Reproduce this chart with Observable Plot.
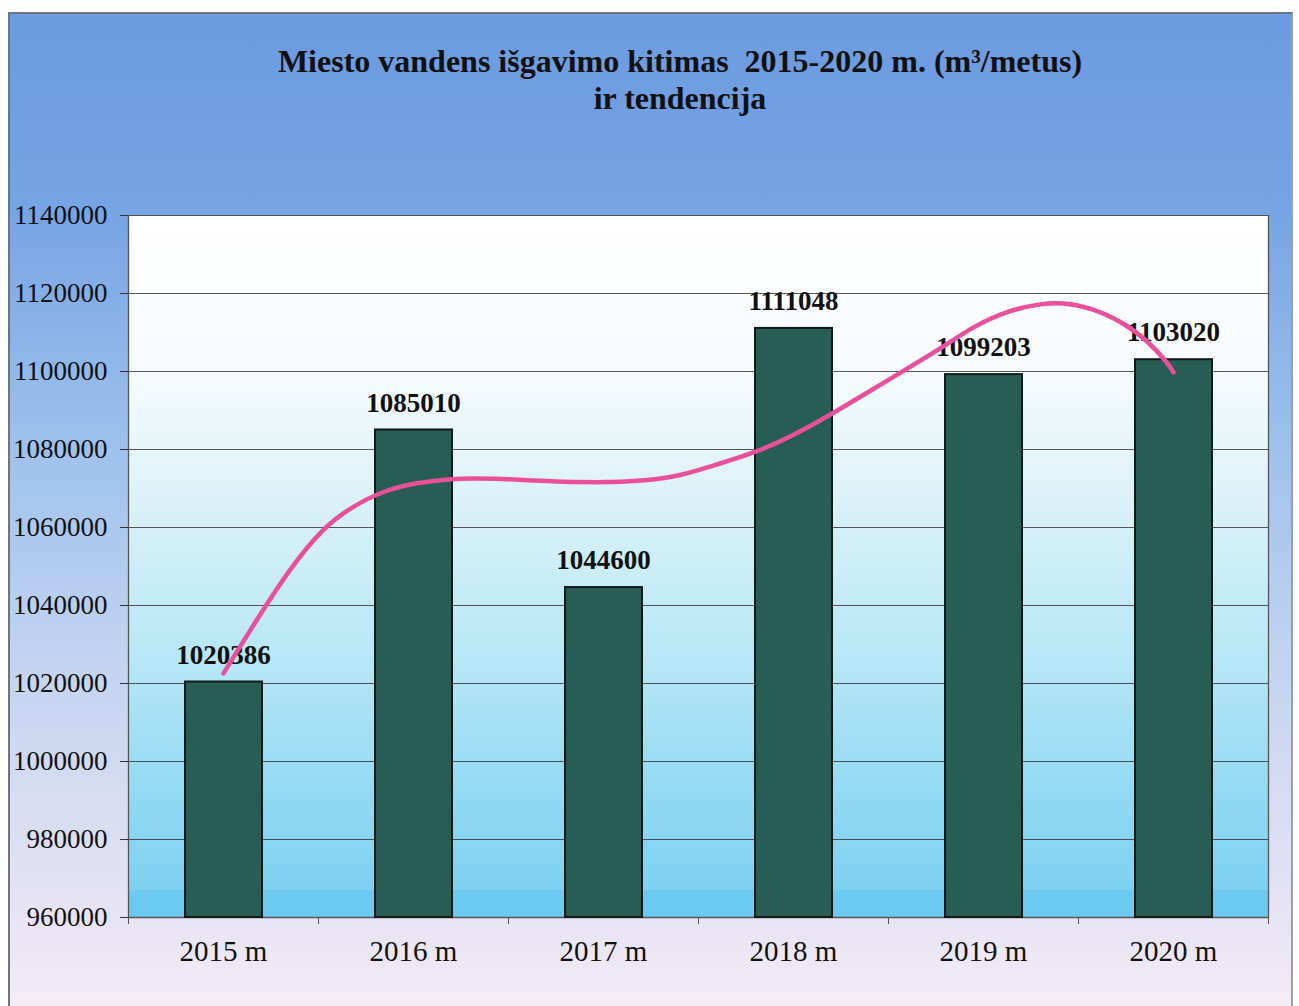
<!DOCTYPE html>
<html>
<head>
<meta charset="utf-8">
<script src="https://cdn.jsdelivr.net/npm/d3@7"></script>
<script src="https://cdn.jsdelivr.net/npm/@observablehq/plot@0.6"></script>
<style>
  html, body { margin: 0; padding: 0; background: #ffffff; }
  body { width: 1299px; height: 1006px; position: relative; overflow: hidden; font-family: "Liberation Serif", serif; }
  #frame {
    position: absolute; left: 8px; top: 12px; width: 1281px; height: 1000px;
    border-left: 2px solid #6e7480; border-top: 2px solid #6e7480; border-right: 2px solid #9aa0b0;
    background: linear-gradient(to bottom, #6b9ae0 0px, #77a4e4 200px, #9cc0ec 420px, #c3d4f0 650px, #e4e2f4 880px, #f5ecf7 1000px);
  }
  #title {
    position: absolute; left: 0; width: 1360px; top: 43px; text-align: center;
    font-family: "Liberation Serif", serif; font-weight: bold; font-size: 32px; line-height: 37px;
    color: #111; white-space: pre;
  }
  #chart { position: absolute; left: 0; top: 0; }
</style>
</head>
<body>
<div id="frame"></div>
<div id="title">Miesto vandens išgavimo kitimas  2015-2020 m. (m³/metus)
ir tendencija</div>
<div id="chart"></div>
<script>
// ---- data ----
const years = [2015, 2016, 2017, 2018, 2019, 2020];
const yearLabels = ["2015 m", "2016 m", "2017 m", "2018 m", "2019 m", "2020 m"];
const volumes = [1020386, 1085010, 1044600, 1111048, 1099203, 1103020];
const yTicks = [960000, 980000, 1000000, 1020000, 1040000, 1060000, 1080000, 1100000, 1120000, 1140000];
const categoryEdges = [2014.5, 2015.5, 2016.5, 2017.5, 2018.5, 2019.5, 2020.5];
// trend line
const trendX = [2015.0, 2015.195, 2015.353, 2015.526, 2015.668, 2015.842, 2016.02, 2016.195, 2016.37, 2016.9, 2017.25, 2017.405, 2017.579, 2017.8, 2018.0, 2018.205, 2018.389, 2018.6, 2018.774, 2018.947, 2019.126, 2019.3, 2019.42, 2019.563, 2019.737, 2019.863, 2019.968, 2020.0];
const trendY = [1022600, 1037900, 1049700, 1060000, 1065100, 1069500, 1071500, 1072500, 1072800, 1071300, 1072000, 1073300, 1075900, 1079200, 1083600, 1089200, 1094600, 1100800, 1105900, 1111600, 1115600, 1117400, 1117700, 1116400, 1112600, 1107900, 1102300, 1099800];

const bars = years.map((y, i) => ({year: y, label: yearLabels[i], value: volumes[i]}));
const trend = trendX.map((x, i) => ({x, y: trendY[i]}));

const plot = Plot.plot({
  width: 1299,
  height: 1006,
  marginLeft: 128,
  marginRight: 31,
  marginTop: 215,
  marginBottom: 89,
  style: {background: "transparent", fontFamily: "Liberation Serif, serif", overflow: "visible"},
  x: {type: "linear", domain: [2014.5, 2020.5], axis: null},
  y: {domain: [960000, 1140000], axis: null},
  marks: [
    Plot.frame({fill: "url(#plotbg)", stroke: null}),
    Plot.gridY(yTicks, {stroke: "#3a3a3a", strokeOpacity: 0.85, strokeWidth: 1}),
    Plot.ruleX([2014.5, 2020.5], {stroke: "#555", strokeWidth: 1.3}),
    Plot.ruleY([960000], {stroke: "#555", strokeWidth: 1.3}),
    // y axis
    Plot.axisY(yTicks, {anchor: "left", tickSize: 8, tickPadding: 13, fontSize: 27, tickFormat: d => String(d), fill: "#111", stroke: "#333"}),
    // x tick marks at category edges
    Plot.axisX(categoryEdges, {anchor: "bottom", tickSize: 7, tickFormat: () => "", stroke: "#555"}),
    // bars
    Plot.rectY(bars, {x1: d => d.year - 0.5, x2: d => d.year + 0.5, y1: 960000, y2: "value", fill: "#285d55", stroke: "#101a18", strokeWidth: 2, insetLeft: 57, insetRight: 56}),
    // value labels
    Plot.text(bars, {x: "year", y: "value", text: d => String(d.value), dy: -27, fontSize: 27, fontWeight: "bold", fill: "#111"}),
    // trend
    Plot.line(trend, {x: "x", y: "y", curve: "basis", stroke: "#ea4f9c", strokeWidth: 4.5, strokeLinecap: "round"}),
    // x labels
    Plot.text(bars, {x: "year", y: 960000, text: "label", dy: 34, fontSize: 29, fill: "#111"})
  ]
});

// gradient for plot background
const svg = d3.select(plot);
const defs = svg.insert("defs", ":first-child");
const g = defs.append("linearGradient").attr("id", "plotbg").attr("x1", 0).attr("y1", 0).attr("x2", 0).attr("y2", 1);
[["0%", "#ffffff"], ["22%", "#f6fbfd"], ["40%", "#dcf2f9"], ["65%", "#b4e6f5"], ["85%", "#8dd8f3"], ["96%", "#7ed1f2"], ["96.2%", "#6cc9f0"], ["100%", "#6cc9f0"]]
  .forEach(([o, c]) => g.append("stop").attr("offset", o).attr("stop-color", c));

document.getElementById("chart").appendChild(plot);
</script>
</body>
</html>
